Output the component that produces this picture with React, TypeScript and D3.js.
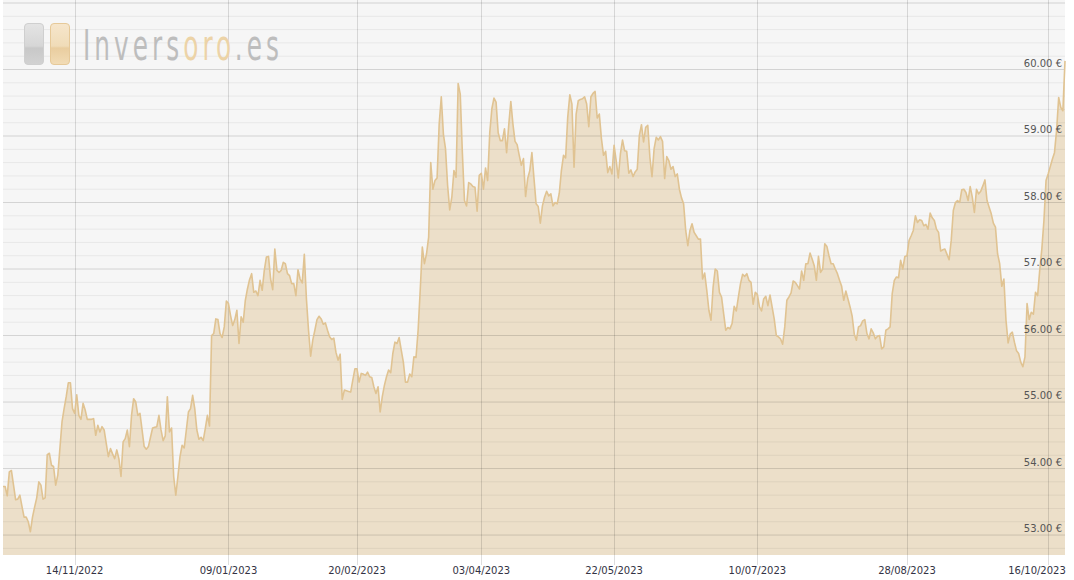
import React from 'react';
import * as d3 from 'd3';

// Daily silver price (EUR)
const pricesA: number[] = [
  53.73, 53.73, 53.59, 53.95, 53.97, 53.75, 53.53, 53.54, 53.60, 53.43, 53.27, 53.27, 53.20, 53.05, 53.27, 53.42,
  53.56, 53.80, 53.75, 53.54, 53.56, 54.21, 54.23, 54.05, 54.03, 53.75, 53.90, 54.30, 54.70, 54.90, 55.08, 55.29,
  55.29, 54.90, 54.83, 55.11, 54.80, 54.74, 54.98, 54.88, 54.74, 54.74, 54.74, 54.75, 54.50, 54.65, 54.55, 54.63,
  54.58, 54.38, 54.18, 54.30, 54.22, 54.15, 54.28, 54.15, 53.88, 54.40, 54.45, 54.58, 54.33, 54.80, 55.05, 55.00,
  54.80, 54.83, 54.58, 54.33, 54.29, 54.33, 54.47, 54.61, 54.62, 54.63, 54.80, 54.58, 54.42, 54.49, 55.08, 54.55,
  54.61, 53.88, 53.60, 53.88, 54.18, 54.35, 54.31, 54.58, 54.85, 54.90, 55.10, 54.90, 54.58, 54.44, 54.47, 54.42,
  54.60, 54.80, 54.64,
];
const pricesB: number[] = [
  56.00, 56.03, 56.25, 56.24, 56.03, 55.97, 56.13, 56.52, 56.48, 56.30, 56.15, 56.24, 56.38, 55.88, 56.28, 56.20,
  56.53, 56.70, 56.84, 56.93, 56.65, 56.67, 56.60, 56.83, 56.68, 56.98, 57.18, 57.19, 56.85, 56.69, 57.30, 56.98,
  56.95, 56.98, 57.10, 57.08, 56.93, 56.90, 56.78, 56.78, 56.60, 56.99, 56.85, 56.79, 57.22, 56.55, 56.08, 55.69,
  55.93, 56.08, 56.24, 56.29, 56.25, 56.17, 56.19, 56.08, 55.98, 55.94, 55.96, 55.75, 55.63, 55.72, 55.04, 55.18,
  55.17, 55.16, 55.15, 55.33, 55.50, 55.50, 55.30, 55.43, 55.42, 55.40, 55.45, 55.38, 55.37, 55.23, 55.13, 55.23,
  54.85, 55.08, 55.25, 55.38, 55.48, 55.44, 55.73, 55.90, 55.88, 55.97, 55.78, 55.60, 55.30, 55.30, 55.42, 55.38,
  55.68, 55.67, 56.08, 56.68, 57.33, 57.08, 57.23, 57.48,
];
const pricesC: number[] = [
  58.60, 58.20, 58.33, 58.37, 59.18, 59.59, 59.03, 58.81, 58.26, 57.89, 58.08, 58.48, 58.38, 59.79, 59.63, 58.75,
  58.03, 57.95, 58.30, 58.28, 58.24, 58.23, 57.87, 58.41, 58.44, 58.20, 58.52, 58.33, 59.05, 59.41, 59.57, 59.51,
  59.05, 58.93, 58.93, 59.11, 58.75, 59.16, 59.52, 59.18, 58.92, 58.87, 58.71, 58.56, 58.66, 58.09, 58.36, 58.48,
  58.75, 58.36, 57.98, 57.94, 57.69, 57.95, 58.08, 58.17, 58.10, 58.13, 57.95, 58.00, 57.98, 58.14, 58.48, 58.71,
  58.67, 59.28, 59.62, 59.48, 58.53, 59.33, 59.53, 59.55, 59.56, 59.59, 59.48, 59.14, 59.59, 59.64, 59.67, 59.27,
  59.33, 58.96, 58.71, 58.77, 58.45, 58.54, 58.43, 58.86, 58.63, 58.37, 58.73, 58.94, 58.78, 58.77,
];
const pricesD: number[] = [
  58.44, 58.49, 58.39, 58.46, 58.50, 59.01, 59.17, 58.91, 59.13, 59.16, 58.68, 58.39, 58.81, 58.98, 58.94, 58.99,
  58.92, 58.36, 58.69, 58.63, 58.50, 58.54, 58.39, 58.43, 58.20, 58.07, 57.98, 57.58, 57.35, 57.58, 57.68, 57.55,
  57.50, 57.45, 57.45, 56.85, 56.94, 56.68, 56.38, 56.23, 56.73, 57.00, 56.97, 56.65, 56.58, 56.33, 56.08, 56.12,
  56.10, 56.18, 56.44, 56.37, 56.58, 56.78, 56.92, 56.89, 56.93, 56.83, 56.80, 56.47, 56.65, 56.62, 56.43, 56.37,
  56.55, 56.59, 56.45, 56.61, 56.43, 56.25, 56.00, 55.98, 55.95, 55.87, 56.13, 56.53, 56.58, 56.64, 56.82, 56.80,
  56.75, 56.70, 56.97, 56.83, 57.08, 57.08, 57.24, 57.15, 57.05, 56.83, 57.19, 56.95, 57.00, 57.38, 57.34, 57.20,
];
const pricesE: number[] = [
  57.08, 57.08, 57.00, 56.93, 56.83, 56.74, 56.53, 56.67, 56.55, 56.43, 56.29, 56.02, 55.93, 56.13, 56.15, 56.22,
  56.24, 56.03, 55.95, 56.10, 56.04, 55.95, 55.99, 56.00, 55.80, 55.83, 56.08, 56.10, 56.13, 56.63, 56.83, 56.88,
  56.87, 57.13, 57.00, 57.19, 57.20, 57.43, 57.50, 57.58, 57.80, 57.70, 57.74, 57.73, 57.65, 57.67, 57.60, 57.84,
  57.77, 57.73, 57.60, 57.55, 57.27, 57.29, 57.30, 57.22, 57.14, 57.43, 57.88, 58.00, 58.03, 58.00, 58.19, 58.20,
  58.15, 58.03, 58.24, 58.08, 57.85, 58.20, 58.13, 58.17, 58.25, 58.34, 58.03, 57.93, 57.83, 57.69, 57.63, 57.23,
  57.08, 56.74, 56.85, 56.23, 55.89, 56.02, 56.05, 55.90, 55.77, 55.73, 55.60, 55.53, 55.68, 56.48, 56.24, 56.35,
  56.32, 56.65, 56.60, 56.98, 57.30, 57.73, 58.33, 58.43, 58.54, 58.65, 58.75, 59.08, 59.58, 59.43, 59.38, 60.13,
];

const prices: number[] = [...pricesA, ...pricesB, ...pricesC, ...pricesD, ...pricesE];

const xTickLabels: string[] = [
  '14/11/2022', '09/01/2023', '20/02/2023', '03/04/2023',
  '22/05/2023', '10/07/2023', '28/08/2023', '16/10/2023',
];
const xTickIndex: number[] = [34, 107, 168, 227, 290, 358, 429, 496];
const yTickValues: number[] = [53, 54, 55, 56, 57, 58, 59, 60];

const W = 1074;
const H = 580;
const LEFT = 3;
const RIGHT = 1065;
const TOP = 3;
const BOTTOM = 555;

export default function App() {
  const x = d3.scaleLinear().domain([0, prices.length - 1]).range([LEFT, RIGHT]);
  const y = d3.scaleLinear().domain([52.7, 61.0]).range([BOTTOM, TOP]);

  const area = d3
    .area<number>()
    .x((_, i) => x(i))
    .y0(BOTTOM)
    .y1((d) => y(d));
  const line = d3
    .line<number>()
    .x((_, i) => x(i))
    .y((d) => y(d));

  const gridVals = d3.range(264, 306).map((k) => k / 5);
  const labelFont = 'DejaVu Sans, Verdana, sans-serif';
  const logoFont = "'DejaVu Sans', sans-serif";

  return (
    <svg
      width={W}
      height={H}
      style={{ position: 'absolute', left: 0, top: 0, display: 'block', background: '#ffffff' }}
    >
      <defs>
        <linearGradient id="gGray" x1="0" y1="0" x2="0" y2="1">
          <stop offset="0" stopColor="#e4e4e4" />
          <stop offset="0.55" stopColor="#d6d6d6" />
          <stop offset="0.6" stopColor="#c8c8c8" />
          <stop offset="1" stopColor="#d2d2d2" />
        </linearGradient>
        <linearGradient id="gTan" x1="0" y1="0" x2="0" y2="1">
          <stop offset="0" stopColor="#f6e6cc" />
          <stop offset="0.55" stopColor="#f0dcb8" />
          <stop offset="0.6" stopColor="#e9cd9f" />
          <stop offset="1" stopColor="#f2dcb6" />
        </linearGradient>
        <linearGradient id="gLogoText" gradientUnits="userSpaceOnUse" x1={83} y1={0} x2={283} y2={0}>
          <stop offset={0} stopColor="#bdbdbd" />
          <stop offset={(179 - 83) / 200} stopColor="#bdbdbd" />
          <stop offset={(179 - 83) / 200} stopColor="#ecd3a7" />
          <stop offset={(232 - 83) / 200} stopColor="#ecd3a7" />
          <stop offset={(232 - 83) / 200} stopColor="#bdbdbd" />
          <stop offset={1} stopColor="#bdbdbd" />
        </linearGradient>
      </defs>

      {/* plot background */}
      <rect x={LEFT} y={0} width={RIGHT - LEFT} height={BOTTOM} fill="#f6f6f6" />

      {/* area */}
      <path d={area(prices) || ''} fill="#ecdfc9" />

      {/* horizontal grid */}
      {gridVals.map((v) => {
        const major = Math.abs(v - Math.round(v)) < 1e-6;
        return (
          <line
            key={v}
            x1={LEFT}
            x2={RIGHT}
            y1={y(v)}
            y2={y(v)}
            stroke="#000"
            strokeOpacity={major ? 0.14 : 0.06}
            strokeWidth={1}
          />
        );
      })}

      {/* vertical grid at ticks */}
      {xTickIndex.map((idx) => (
        <line
          key={idx}
          x1={Math.round(x(idx)) + 0.5}
          x2={Math.round(x(idx)) + 0.5}
          y1={0}
          y2={565}
          stroke="#000"
          strokeOpacity={0.13}
          strokeWidth={1}
        />
      ))}

      {/* price line */}
      <path
        d={line(prices) || ''}
        fill="none"
        stroke="#e0c392"
        strokeWidth={1.6}
        strokeLinejoin="round"
      />

      {/* y labels */}
      {yTickValues.map((v) => (
        <text
          key={v}
          x={1062}
          y={y(v) - 3}
          textAnchor="end"
          fontFamily={labelFont}
          fontSize={10}
          fill="#555555"
        >
          {v.toFixed(2) + ' €'}
        </text>
      ))}

      {/* x labels */}
      {xTickIndex.map((idx, i) => {
        const half = 29;
        const cx = Math.min(x(idx), 1066 - half);
        return (
          <text
            key={xTickLabels[i]}
            x={cx}
            y={574}
            textAnchor="middle"
            fontFamily={labelFont}
            fontSize={10}
            fill="#333344"
          >
            {xTickLabels[i]}
          </text>
        );
      })}

      {/* logo */}
      <g>
        <rect x={24.5} y={23.5} width={19} height={41} rx={3.5} fill="url(#gGray)" stroke="#cfcfcf" />
        <rect x={50.5} y={23.5} width={19} height={41} rx={3.5} fill="url(#gTan)" stroke="#e6c999" />
        <text
          x={83}
          y={60}
          fontFamily={logoFont}
          fontSize={43}
          textLength={200}
          lengthAdjust="spacingAndGlyphs"
          letterSpacing={7}
          fill="url(#gLogoText)"
        >
          Inversoro.es
        </text>
      </g>
    </svg>
  );
}
